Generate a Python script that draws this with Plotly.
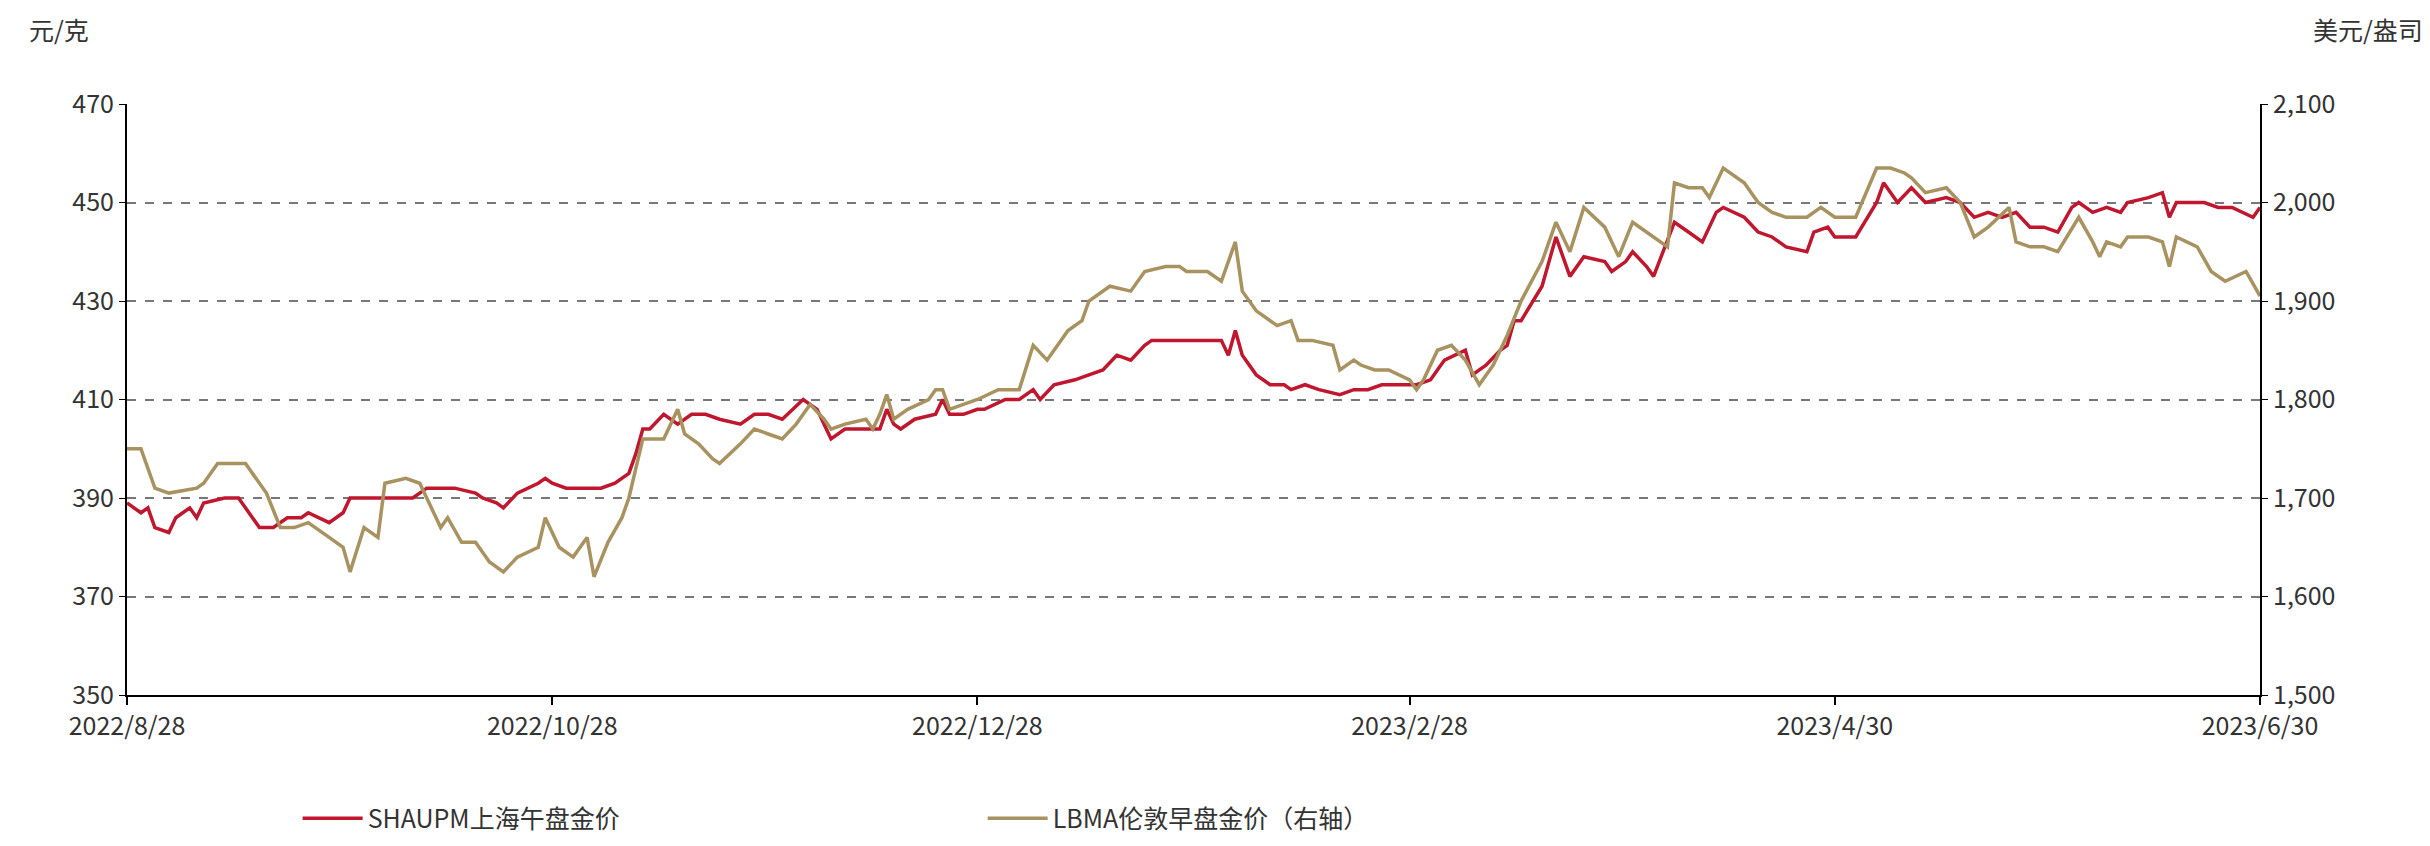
import pandas as pd
import plotly.graph_objects as go

start = pd.Timestamp("2022-08-28")

sh_days = [0,2,3,4,6,7,9,10,11,14,16,17,19,21,23,25,26,29,31,32,36,41,43,45,47,50,51,53,54,56,59,60,61,63,65,68,70,72,73,74,75,77,78,79,81,83,85,88,89,90,92,94,97,99,100,101,103,106,108,109,110,111,113,116,117,118,120,122,123,126,128,130,131,133,136,138,140,142,144,146,147,150,155,157,158,159,160,162,164,166,167,169,171,174,176,178,180,183,185,187,189,192,193,195,197,198,199,200,203,205,207,209,212,213,215,216,218,219,222,224,226,228,229,232,234,236,238,241,242,244,245,248,251,252,254,256,258,261,263,265,267,269,271,273,275,277,279,280,282,284,286,287,290,292,293,294,298,300,302,305,306]
sh_vals = [389,387,388,384,383,386,388,386,389,390,390,388,384,384,386,386,387,385,387,390,390,390,392,392,392,391,390,389,388,391,393,394,393,392,392,392,393,395,399,404,404,407,406,405,407,407,406,405,406,407,407,406,410,408,405,402,404,404,404,408,405,404,406,407,410,407,407,408,408,410,410,412,410,413,414,415,416,419,418,421,422,422,422,422,419,424,419,415,413,413,412,413,412,411,412,412,413,413,413,414,418,420,415,417,420,421,426,426,433,443,435,439,438,436,438,440,437,435,446,444,442,448,449,447,444,443,441,440,444,445,443,443,450,454,450,453,450,451,450,447,448,447,448,445,445,444,449,450,448,449,448,450,451,452,447,450,450,449,449,447,449]

lb_days = [0,2,4,6,10,11,13,15,17,20,22,24,26,29,31,32,34,36,37,40,42,44,45,46,48,50,52,54,56,59,60,62,64,66,67,69,71,72,74,77,79,80,82,84,85,88,90,92,94,96,98,100,101,103,106,107,108,109,110,112,115,116,117,118,120,122,125,128,130,132,135,137,138,140,141,144,146,149,151,152,155,157,159,160,162,165,167,168,170,173,174,176,177,179,181,184,185,186,188,190,192,194,196,198,200,203,205,207,209,212,214,216,218,221,222,224,226,227,229,232,234,236,238,241,243,245,248,251,253,255,256,258,261,263,265,267,270,271,273,275,277,280,282,283,284,286,287,290,292,293,294,297,299,301,304,306]
lb_vals = [1750,1750,1710,1705,1710,1715,1735,1735,1735,1705,1670,1670,1675,1660,1650,1625,1670,1660,1715,1720,1715,1685,1670,1680,1655,1655,1635,1625,1640,1650,1680,1650,1640,1660,1620,1655,1680,1700,1760,1760,1790,1765,1755,1740,1735,1755,1770,1765,1760,1775,1795,1780,1770,1775,1780,1770,1785,1805,1780,1790,1800,1810,1810,1790,1795,1800,1810,1810,1855,1840,1870,1880,1900,1910,1915,1910,1930,1935,1935,1930,1930,1920,1960,1910,1890,1875,1880,1860,1860,1855,1830,1840,1835,1830,1830,1820,1810,1820,1850,1855,1840,1815,1835,1865,1900,1940,1980,1950,1995,1975,1945,1980,1970,1955,2020,2015,2015,2005,2035,2020,2000,1990,1985,1985,1995,1985,1985,2035,2035,2030,2025,2010,2015,2000,1965,1975,1995,1960,1955,1955,1950,1985,1960,1945,1960,1955,1965,1965,1960,1935,1965,1955,1930,1920,1930,1905]

left_ticks = [350, 370, 390, 410, 430, 450, 470]
right_ticks = [1500, 1600, 1700, 1800, 1900, 2000, 2100]
tick_dates = ["2022-08-28","2022-10-28","2022-12-28","2023-02-28","2023-04-30","2023-06-30"]
tick_text = ["2022/8/28","2022/10/28","2022/12/28","2023/2/28","2023/4/30","2023/6/30"]

sh_x = [start + pd.Timedelta(days=d) for d in sh_days]
lb_x = [start + pd.Timedelta(days=d) for d in lb_days]

FONT = "Noto Sans CJK SC"
fig = go.Figure()
fig.add_trace(go.Scatter(x=sh_x, y=sh_vals, mode="lines", name="SHAUPM上海午盘金价",
                         line=dict(color="#C0172F", width=3.5)))
fig.add_trace(go.Scatter(x=lb_x, y=lb_vals, mode="lines", name="LBMA伦敦早盘金价（右轴）",
                         line=dict(color="#A8925F", width=3.5), yaxis="y2"))

fig.update_layout(
    width=2430, height=846, plot_bgcolor="white", paper_bgcolor="white",
    margin=dict(l=119, r=178, t=96, b=147),
    font=dict(family=FONT, size=25, color="#333333"),
    xaxis=dict(type="date", range=["2022-08-28", "2023-06-30"], tickvals=tick_dates, ticktext=tick_text,
               showgrid=False, showline=True, linecolor="black", linewidth=2,
               ticks="outside", ticklen=8, tickcolor="black", tickwidth=2, zeroline=False),
    yaxis=dict(range=[350, 470], tickvals=left_ticks, showgrid=True, gridcolor="#777777", griddash="dash",
               gridwidth=1.5, showline=True, linecolor="black", linewidth=2, ticks="outside", ticklen=6,
               tickcolor="black", zeroline=False),
    yaxis2=dict(range=[1500, 2100], tickvals=right_ticks, overlaying="y", side="right", showgrid=False,
                tickformat=",", showline=True, linecolor="black", linewidth=2, ticks="outside",
                ticklen=6, tickcolor="black", zeroline=False),
    legend=dict(orientation="h", x=0.08, y=-0.17, xanchor="left", yanchor="top",
                font=dict(size=25), entrywidth=610, itemwidth=60),
    annotations=[
        dict(text="元/克", x=0, y=1.0, xref="paper", yref="paper", xshift=-100, yshift=55,
             xanchor="left", yanchor="bottom", showarrow=False, font=dict(size=25)),
        dict(text="美元/盎司", x=1, y=1.0, xref="paper", yref="paper", xshift=165, yshift=55,
             xanchor="right", yanchor="bottom", showarrow=False, font=dict(size=25)),
    ],
)
fig.write_html("out.html")
